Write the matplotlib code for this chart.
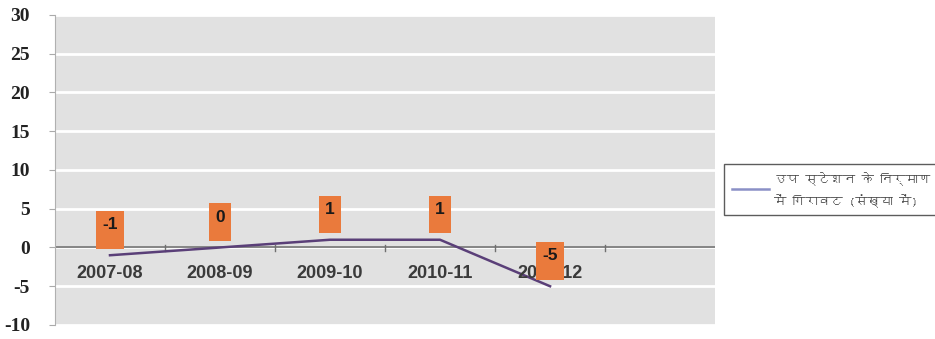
import matplotlib
matplotlib.use('Agg')
import matplotlib.pyplot as plt
from matplotlib import font_manager
from matplotlib.lines import Line2D

# Data
years = ['2007-08', '2008-09', '2009-10', '2010-11', '2011-12']
decline = [-1, 0, 1, 1, -5]
legend_label = 'उप स्टेशन के निर्माण\nमें गिरावट (संख्या में)'
y_ticks = [-10, -5, 0, 5, 10, 15, 20, 25, 30]


def find_devanagari_font():
    # look for any installed font that covers Devanagari
    try:
        from fontTools.ttLib import TTFont
    except ImportError:
        return None
    for f in font_manager.fontManager.ttflist:
        try:
            tt = TTFont(f.fname, fontNumber=0, lazy=True)
            cmap = tt.getBestCmap()
            if cmap and 0x0915 in cmap and 0x093F in cmap:
                return f.name
        except Exception:
            continue
    return None


hindi_font = find_devanagari_font()
hindi_family = [hindi_font, 'DejaVu Sans'] if hindi_font else ['DejaVu Sans']

fig = plt.figure(figsize=(9.35, 3.39), dpi=100)
ax = fig.add_axes([0.0588, 0.0413, 0.7060, 0.9145])
ax.set_facecolor('#e1e1e1')

x = list(range(len(years)))
ax.plot(x, decline, color='#5a3f78', linewidth=1.8, zorder=3)

# value labels in orange boxes above the points
for xi, v in zip(x, decline):
    ax.annotate(f'{v}\n', (xi, v), xytext=(0, 9), textcoords='offset points',
                ha='center', va='bottom', fontsize=12.5, fontweight='bold',
                family='Liberation Sans', color='#1a1a1a', linespacing=0.62,
                bbox=dict(boxstyle='square,pad=0.35', fc='#ea7a3c', ec='none'),
                zorder=4)

ax.set_xlim(-0.5, 5.5)
ax.set_ylim(-10, 30)
ax.set_yticks(y_ticks)
ax.set_yticklabels([str(t) for t in y_ticks], family='Liberation Serif',
                   fontweight='bold', fontsize=14, color='#222222')
ax.grid(axis='y', color='white', linewidth=2)
ax.set_axisbelow(True)
ax.tick_params(axis='y', length=4, color='#aaaaaa', pad=14)

for side in ['top', 'right', 'bottom']:
    ax.spines[side].set_visible(False)
ax.spines['left'].set_color('#b0b0b0')

# horizontal zero axis with category ticks
ax.axhline(0, color='#707070', linewidth=1.2, zorder=2)
for b in [0.5, 1.5, 2.5, 3.5, 4.5]:
    ax.plot([b, b], [0.3, -0.5], color='#707070', linewidth=1, zorder=2)
ax.set_xticks([])
for xi, lab in zip(x, years):
    ax.text(xi, -3.3, lab, ha='center', va='center', fontsize=13,
            fontweight='bold', family='Liberation Sans', color='#3a3a3a', zorder=3)

handle = Line2D([], [], color='#8a90c6', linewidth=1.8)
leg = fig.legend([handle], [legend_label], loc='center left',
                 bbox_to_anchor=(0.768, 0.44), frameon=True, fancybox=False,
                 handlelength=3.0, handletextpad=0.4, borderpad=0.6,
                 prop=font_manager.FontProperties(family=hindi_family, size=9))
leg.get_frame().set_edgecolor('#333333')
leg.get_frame().set_linewidth(1)
for t in leg.get_texts():
    t.set_color('#444444')
    t.set_linespacing(1.7)

fig.savefig('out.png', dpi=100, facecolor='white')
